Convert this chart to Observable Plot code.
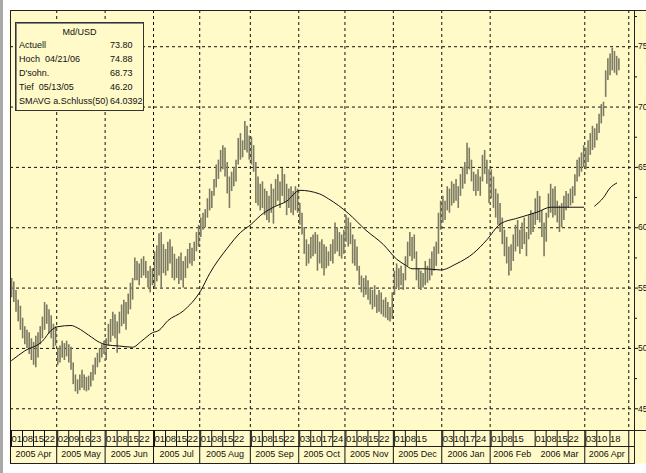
<!DOCTYPE html>
<html><head><meta charset="utf-8">
<script src="https://cdn.jsdelivr.net/npm/d3@7"></script>
<script src="https://cdn.jsdelivr.net/npm/@observablehq/plot@0.6"></script>
<style>
html,body{margin:0;padding:0;background:#fff;}
#wrap{position:relative;width:646px;height:473px;overflow:hidden;background:#fff;}
#lbar{position:absolute;left:0;top:0;width:3px;height:473px;background:#a9a9a9;}
#chart{position:absolute;left:0;top:0;}
#box{position:absolute;left:15px;top:22px;width:127px;height:87px;border:1px solid #333;
  box-shadow:inset 1px 1px 0 #888;background:#fffac8;font-family:"Liberation Sans",Arial,sans-serif;
  font-size:9px;color:#111;}
#box .t{position:absolute;left:0;width:127px;top:4px;text-align:center;}
#box .r{position:absolute;left:3px;width:121px;height:12px;}
#box .l{position:absolute;left:0;width:90px;overflow:hidden;white-space:pre;}
#box .v{position:absolute;left:91px;white-space:pre;}
</style>
</head><body>
<div id="wrap"><div id="lbar"></div><div id="chart"></div><div id="box"></div></div>
<script>
// daily high / low (trading-day index 0 = 2005-04-01)
const highs = [
55.8,55.5,54.8,54.0,53.5,52.5,51.8,51.5,51.3,50.8,50.5,51.0,51.3,51.8,52.6,53.8,53.6,53.2,52.7,52.0,51.8,
50.0,50.2,50.6,50.4,50.6,50.3,50.1,48.8,47.8,47.4,47.8,48.2,47.8,47.6,47.7,48.0,48.6,49.2,49.6,50.0,50.3,50.6,
50.8,52.0,52.4,53.0,52.8,52.2,53.0,53.6,54.0,53.8,54.5,55.4,55.8,57.5,57.2,57.0,57.4,57.6,57.2,56.4,56.8,56.6,
58.0,58.5,59.5,59.6,58.6,58.2,58.8,59.0,58.4,57.8,57.4,57.6,57.9,57.2,57.6,58.2,58.7,58.3,58.8,59.6,60.2,
60.8,61.2,61.5,62.4,63.2,63.0,64.0,65.2,65.6,66.4,66.8,66.6,65.4,64.2,64.6,65.0,65.6,67.4,67.8,67.2,68.8,68.4,67.6,
67.5,66.8,65.4,64.2,63.6,63.8,63.2,63.0,62.6,63.6,63.2,64.0,64.4,63.8,64.9,64.4,63.6,63.2,63.4,63.0,63.4,63.2,
62.0,61.2,60.0,59.0,58.6,59.2,59.4,59.6,59.4,58.8,59.0,58.6,58.4,58.0,58.6,59.0,60.4,60.0,59.6,59.4,59.8,
61.0,60.8,60.4,59.4,59.0,58.4,56.8,56.0,55.8,56.0,55.6,55.0,54.8,55.2,54.4,54.8,54.6,54.0,54.2,53.8,53.4,54.6,
56.4,57.0,56.6,56.8,56.2,57.6,58.8,59.6,59.2,59.4,58.0,56.6,56.4,56.2,57.2,56.8,57.4,58.0,58.4,58.8,61.2,62.2,
62.6,62.2,63.4,63.2,63.8,63.6,64.0,63.4,64.4,65.0,65.4,67.0,66.6,65.6,64.6,64.4,64.8,64.2,66.0,66.4,65.6,64.8,
64.8,64.2,63.2,62.8,62.0,60.8,59.8,59.2,58.4,58.6,59.4,60.2,60.6,59.8,60.4,60.8,59.6,61.0,61.4,61.2,
62.4,63.0,62.6,61.4,60.4,61.2,62.8,63.6,63.2,63.4,62.2,61.8,62.0,62.6,63.0,62.8,63.2,63.4,64.4,65.6,65.8,66.2,66.8,
66.6,67.2,67.8,68.4,68.2,68.6,69.4,70.2,70.4,73.0,74.0,74.4,74.88,74.6,74.2,74.0
];
const lows = [
54.2,53.8,53.0,52.2,51.5,50.8,50.3,50.0,49.5,49.0,48.6,48.4,49.2,50.3,50.8,51.5,52.0,51.2,50.8,50.0,50.2,
48.6,48.8,49.2,49.0,49.3,48.8,48.2,47.0,46.4,46.2,46.5,46.7,46.5,46.4,46.5,46.8,47.3,47.8,48.4,48.8,49.2,49.5,
49.0,50.2,50.5,51.0,50.8,49.6,51.2,51.8,52.0,51.5,52.8,53.2,54.0,55.6,55.6,55.2,55.8,56.0,55.8,55.0,54.6,55.2,
55.0,55.5,56.0,55.0,56.2,56.0,56.4,57.0,55.8,55.6,55.8,55.3,55.6,55.0,55.8,56.6,57.0,56.8,57.2,58.0,58.4,
59.2,59.8,60.0,60.8,61.4,61.6,62.6,63.3,64.0,64.6,64.8,64.2,62.8,61.6,63.0,63.4,63.8,65.2,65.6,65.8,66.4,66.2,65.6,
65.2,64.6,62.0,61.8,61.4,61.6,61.0,60.6,60.4,61.2,60.3,61.8,62.2,61.6,62.6,62.0,61.0,61.6,61.2,61.0,61.4,61.2,
60.2,59.4,57.8,56.8,57.0,57.4,57.6,57.8,56.4,57.0,56.6,56.0,56.6,56.8,57.2,57.0,57.8,58.0,57.6,57.4,57.8,
58.8,58.4,58.6,57.0,56.8,56.4,55.2,54.6,54.2,54.4,54.0,53.6,53.2,53.4,52.9,53.0,52.8,52.6,52.5,52.3,52.2,52.4,
54.4,55.0,54.8,55.2,54.8,55.6,56.8,57.6,57.2,57.4,55.6,55.0,54.8,55.0,55.2,55.4,55.6,56.0,56.4,56.8,57.8,59.8,
60.4,60.6,61.4,61.2,61.8,62.0,62.2,61.6,62.6,63.2,63.6,64.4,64.8,63.8,63.0,62.6,63.0,62.6,63.8,64.4,63.6,62.0,
62.4,61.6,60.8,60.2,59.6,58.6,57.6,57.0,56.0,56.4,57.2,58.0,58.4,57.8,58.2,58.6,57.6,59.0,59.4,59.6,
60.2,60.6,60.4,59.2,57.6,58.8,60.8,61.2,60.8,61.0,60.4,59.6,60.0,60.6,61.4,61.6,61.8,62.0,62.6,63.8,64.2,64.6,65.0,
64.8,65.4,66.0,66.4,66.6,67.2,67.8,68.6,69.2,70.8,72.2,72.6,73.0,72.8,72.6,73.0
];
// 50-day moving average (day index, value); null = gap
const maDay = [0,6,14,18,21,27,30,35,40,43,49,55,59,64,67,71,78,86,90,98,104,109,113,119,125,131,140,144,153,161,169,175,179,182,188,195,202,210,216,222,230,239,245,260,261,265,269,272,275];
const maVal = [49.0,49.8,50.6,51.5,51.8,51.9,51.7,51.1,50.5,50.3,50.2,50.1,50.6,51.3,51.5,52.3,53.1,54.8,56.2,58.3,59.6,60.3,61.0,61.7,62.2,63.1,62.8,62.4,61.2,59.8,58.6,57.4,56.9,56.6,56.6,56.5,57.0,57.9,59.0,60.3,60.8,61.3,61.7,61.7,null,61.8,62.5,63.3,63.7];

// axis: month starts (day index), labels, day labels
const monthStart = [0,21,43,65,86,109,131,152,174,196,218,238,261,281];
const monthNames = ["2005 Apr","2005 May","2005 Jun","2005 Jul","2005 Aug","2005 Sep","2005 Oct","2005 Nov","2005 Dec","2006 Jan","2006 Feb","2006 Mar","2006 Apr"];
const monthLine = [true,true,true,true,true,true,true,true,true,true,true,false,true,true];
const dayLabels = [["01","08","15","22"],["02","09","16","23"],["01","08","15","22"],["01","08","15","22"],["01","08","15","22"],["01","08","15","22"],["03","10","17","24"],["01","08","15","22"],["01","08","15"],["03","10","17","24"],["01","08","15"],["01","08","15","22"],["03","10","18"]];
const dayOffset = [[0,5,10,15],[0,5,10,15],[0,5,10,15],[0,5,10,15],[0,5,10,15],[0,5,10,15],[0,5,10,15],[0,5,10,15],[0,5,10],[0,5,10,15],[0,5,10],[0,5,10,15],[0,5,11]];
const yMajor = [45,50,55,60,65,70,75];
const yMinor = [47.5,52.5,57.5,62.5,67.5,72.5,77.5];

// stats box
const boxTitle = "Md/USD";
const statLabels = ["Actuell","Hoch  04/21/06","D'sohn.","Tief  05/13/05","SMAVG a.Schluss(50)"];
const statValues = ["73.80","74.88","68.73","46.20","64.0392"];

const bg = "#fffac8";
const bars = highs.map((h, i) => ({i, h, l: lows[i]}));
const ma = maDay.map((d, k) => ({i: d, v: maVal[k]}));
const bound = monthStart.map(m => m - 0.5);
const gridPos = bound.filter((b, k) => k > 0 && monthLine[k]);
const sepPos = bound.filter((b, k) => monthLine[k]);
const dayTicks = [];
dayLabels.forEach((arr, m) => arr.forEach((lab, k) => dayTicks.push({p: monthStart[m] + dayOffset[m][k] - 0.5, lab})));
const dayMap = new Map(dayTicks.map(d => [d.p, d.lab]));
const midTicks = monthNames.map((n, k) => ({p: (bound[k] + bound[k + 1]) / 2, n}));
const midMap = new Map(midTicks.map(d => [d.p, d.n]));

const chart = Plot.plot({
  width: 646, height: 473,
  marginLeft: 10, marginRight: 12, marginTop: 10, marginBottom: 43,
  x: {type: "linear", domain: [-0.5, 283.1], label: null},
  y: {domain: [43.2, 78], label: null},
  style: {background: "transparent", fontFamily: "'Liberation Sans', Arial, sans-serif", fontSize: "9px", color: "#111"},
  marks: [
    Plot.frame({fill: bg, stroke: null, insetBottom: -33, insetRight: -12, insetLeft: -1}),
    Plot.gridY(yMajor, {stroke: "#111", strokeOpacity: 1, strokeDasharray: "3,3"}),
    Plot.gridX(gridPos, {stroke: "#111", strokeOpacity: 1, strokeDasharray: "3,3"}),
    Plot.ruleX(bars, {x: "i", y1: "l", y2: "h", stroke: "#7c7a62", strokeWidth: 1.6}),
    Plot.line(ma, {x: "i", y: "v", stroke: "#111", strokeWidth: 1, curve: "monotone-x"}),
    Plot.frame({stroke: "#222"}),
    Plot.frame({stroke: "#222", insetBottom: -16}),
    Plot.frame({stroke: "#222", insetBottom: -33}),
    Plot.ruleY([78, 43.2], {stroke: "#222", insetRight: -12}),
    Plot.axisY(yMajor, {anchor: "right", tickSize: 3, tickPadding: 0.5, label: null,
      fontFamily: "'Liberation Sans Narrow', 'Arial Narrow', sans-serif", fontSize: 8.5}),
    Plot.axisY(yMinor.filter(v => v < 78), {anchor: "right", tickSize: 2, tickFormat: () => "", label: null}),
    Plot.axisX(dayTicks.map(d => d.p), {anchor: "bottom", tickSize: 16, tickPadding: -8, lineAnchor: "middle", textAnchor: "start", dx: 1, label: null,
      tickFormat: p => dayMap.get(p), fontFamily: "'Liberation Sans Narrow', 'Arial Narrow', sans-serif", fontSize: 9.5}),
    Plot.axisX(sepPos, {anchor: "bottom", tickSize: 33, tickFormat: () => "", label: null}),
    Plot.axisX(midTicks.map(d => d.p), {anchor: "bottom", tickSize: 0, tickPadding: 24, lineAnchor: "middle", label: null,
      tickFormat: p => midMap.get(p), fontSize: 9})
  ]
});
document.getElementById("chart").append(chart);

const box = document.getElementById("box");
const t = document.createElement("div"); t.className = "t"; t.textContent = boxTitle; box.append(t);
statLabels.forEach((lab, k) => {
  const r = document.createElement("div"); r.className = "r"; r.style.top = (17 + k * 14) + "px";
  const l = document.createElement("span"); l.className = "l"; l.textContent = lab;
  const v = document.createElement("span"); v.className = "v"; v.textContent = statValues[k];
  r.append(l, v); box.append(r);
});
</script>
</body></html>
